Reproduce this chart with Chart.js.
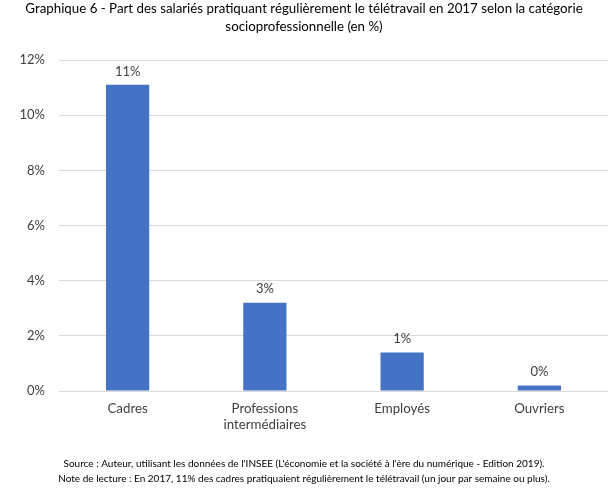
<!DOCTYPE html>
<html>
<head>
<meta charset="utf-8">
<script src="https://cdn.jsdelivr.net/npm/chart.js@4"></script>
<style>
html,body{margin:0;padding:0;background:#fff;}
#wrap{width:612px;height:490px;}
</style>
</head>
<body>
<div id="wrap"><canvas id="c" width="612" height="490"></canvas></div>
<script>
const categories = [["Cadres"], ["Professions", "intermédiaires"], ["Employés"], ["Ouvriers"]];
const values = [11.1, 3.2, 1.4, 0.2];
const valueLabels = ["11%", "3%", "1%", "0%"];
const yTicks = [0, 2, 4, 6, 8, 10, 12];
const titleLines = ["Graphique 6 - Part des salariés pratiquant régulièrement le télétravail en 2017 selon la catégorie", "socioprofessionnelle (en %)"];
const footerLines = ["Source : Auteur, utilisant les données de l'INSEE (L'économie et la société à l'ère du numérique - Edition 2019).", "Note de lecture : En 2017, 11% des cadres pratiquaient régulièrement le télétravail (un jour par semaine ou plus)."];

const FONT = "Lato, 'Open Sans', sans-serif";

const labelPlugin = {
  id: 'valueLabels',
  afterDatasetsDraw(chart) {
    const ctx = chart.ctx;
    const meta = chart.getDatasetMeta(0);
    ctx.save();
    ctx.font = "13px " + FONT;
    ctx.fillStyle = "#404040";
    ctx.textAlign = "center";
    ctx.textBaseline = "bottom";
    meta.data.forEach((bar, i) => {
      ctx.fillText(valueLabels[i], bar.x, bar.y - 7);
    });
    ctx.restore();
  }
};

new Chart(document.getElementById('c'), {
  type: 'bar',
  data: {
    labels: categories,
    datasets: [{
      data: values,
      backgroundColor: '#4472C4',
      categoryPercentage: 1,
      barPercentage: 0.315
    }]
  },
  options: {
    responsive: false,
    animation: false,
    layout: { padding: { left: 0, right: 4, top: 0, bottom: 0 } },
    plugins: {
      legend: { display: false },
      tooltip: { enabled: false },
      title: {
        display: true,
        text: titleLines,
        color: '#000',
        font: { family: FONT, size: 13.3, weight: 'normal', lineHeight: '18px' },
        padding: { top: 0, bottom: 24 }
      },
      subtitle: {
        display: true,
        position: 'bottom',
        text: footerLines,
        color: '#000',
        font: { family: FONT, size: 10, weight: 'normal', lineHeight: '15px' },
        padding: { top: 0, bottom: 4 }
      }
    },
    scales: {
      x: {
        grid: { display: false, drawTicks: false },
        border: { display: false },
        ticks: { color: '#404040', font: { family: FONT, size: 13.3 }, padding: 10 },
        afterFit(scale) { scale.height = 65; }
      },
      y: {
        min: 0, max: 12,
        afterBuildTicks(scale) { scale.ticks = yTicks.map(v => ({ value: v })); },
        grid: { color: '#d9d9d9', lineWidth: 1, drawTicks: false },
        border: { display: false },
        ticks: {
          color: '#404040',
          font: { family: FONT, size: 13 },
          padding: 14,
          callback: v => v + '%'
        },
        afterFit(scale) { scale.width = 59; }
      }
    }
  },
  plugins: [labelPlugin]
});
</script>
</body>
</html>
